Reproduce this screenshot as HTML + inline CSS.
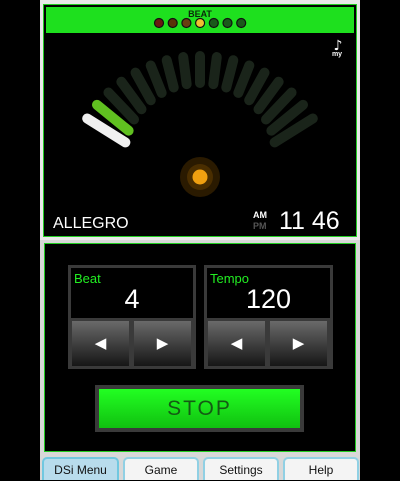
<!DOCTYPE html>
<html><head><meta charset="utf-8"><style>
html,body{margin:0;padding:0;background:#000;}
body{width:400px;height:480px;position:relative;overflow:hidden;font-family:"Liberation Sans",sans-serif;}
.abs{position:absolute;}
.arrow{color:#fff;font-size:15px;text-align:center;line-height:45px;background:linear-gradient(#6a6a6a,#161616);}
.tab{top:457px;height:23px;border:2px solid #90d0e4;border-bottom:none;border-radius:5px 5px 0 0;text-align:center;font-size:12px;line-height:22px;color:#111;box-sizing:border-box;}
</style></head><body>
<div class="abs" style="left:40px;top:0;width:320px;height:240px;background:#e8e8e8;">
  <div class="abs" style="left:3px;top:4px;width:312px;height:231px;background:#000;border:1px solid #22cc22;">
    <div class="abs" style="left:2px;top:2px;width:308px;height:26px;background:#1ee01e;"></div>
    <div class="abs" style="left:0;top:4px;width:312px;text-align:center;font-size:9px;font-weight:bold;color:#0a2a0a;">BEAT</div>
  </div>
</div>
<svg class="abs" style="left:0;top:0" width="400" height="240">
  <g id="dots"></g>
  <g id="arc"></g>
  <circle cx="200" cy="177" r="20" fill="#2a1a00"/>
  <circle cx="200" cy="177" r="13" fill="#4a2e00"/>
  <circle cx="200" cy="177" r="7.5" fill="#f0a010"/>
  <text x="338" y="50" fill="#fff" font-size="14" text-anchor="middle" font-family="DejaVu Sans">♪</text>
  <text x="337" y="56" fill="#fff" font-size="7" font-weight="bold" text-anchor="middle">my</text>
  <text x="53" y="228" fill="#fff" font-size="16">ALLEGRO</text>
  <text x="253" y="218" fill="#fff" font-size="9" font-weight="bold">AM</text>
  <text x="253" y="229" fill="#555" font-size="9" font-weight="bold">PM</text>
  <text x="279" y="229" fill="#fff" font-size="25">11 46</text>
</svg>
<div class="abs" style="left:40px;top:240px;width:320px;height:240px;background:#d8d8d8;"></div>
<div class="abs" style="left:44px;top:243px;width:310px;height:207px;background:#000;border:1px solid #22cc22;"></div>
<div class="abs" style="left:68px;top:265px;width:128px;height:104px;background:#3a3a3a;">
  <div class="abs" style="left:3px;top:3px;width:122px;height:50px;background:#000;">
    <div class="abs" style="left:3px;top:3px;color:#22ee22;font-size:13px;">Beat</div>
    <div class="abs" style="left:0;top:16px;width:122px;text-align:center;color:#fff;font-size:27px;">4</div>
  </div>
  <div class="abs arrow" style="left:4px;top:56px;width:57px;height:45px;">◀</div>
  <div class="abs arrow" style="left:66px;top:56px;width:57px;height:45px;">▶</div>
</div>
<div class="abs" style="left:204px;top:265px;width:129px;height:104px;background:#3a3a3a;">
  <div class="abs" style="left:3px;top:3px;width:123px;height:50px;background:#000;">
    <div class="abs" style="left:3px;top:3px;color:#22ee22;font-size:13px;">Tempo</div>
    <div class="abs" style="left:0;top:16px;width:123px;text-align:center;color:#fff;font-size:27px;">120</div>
  </div>
  <div class="abs arrow" style="left:4px;top:56px;width:57px;height:45px;">◀</div>
  <div class="abs arrow" style="left:66px;top:56px;width:57px;height:45px;">▶</div>
</div>
<div class="abs" style="left:95px;top:385px;width:209px;height:47px;background:#3a3a3a;">
  <div class="abs" style="left:4px;top:4px;width:201px;height:39px;background:linear-gradient(#22ff22,#10c010);color:#145a14;font-size:21px;letter-spacing:2px;text-align:center;line-height:40px;">STOP</div>
</div>
<div class="abs tab" style="left:42px;width:77px;background:#b8dcec;border-color:#70c8e0;">DSi Menu</div>
<div class="abs tab" style="left:123px;width:76px;background:#f4f4f4;">Game</div>
<div class="abs tab" style="left:203px;width:76px;background:#f4f4f4;">Settings</div>
<div class="abs tab" style="left:283px;width:76px;background:#f4f4f4;">Help</div>
<script>
const beatColors=["#6a1a10","#5a3208","#6a4010","#f0c030","#1a5a1a","#1a5a1a","#1a5a1a"];
const segCount=17;
const NS="http://www.w3.org/2000/svg";
const dots=document.getElementById('dots');
beatColors.forEach((c,i)=>{
  const el=document.createElementNS(NS,'circle');
  el.setAttribute('cx',159+i*13.7);el.setAttribute('cy',23);el.setAttribute('r',4.5);
  el.setAttribute('fill',c);el.setAttribute('stroke','#111');el.setAttribute('stroke-width','1.2');
  
  
  dots.appendChild(el);
});
const arc=document.getElementById('arc');
for(let i=0;i<segCount;i++){
  const t=(i/(segCount-1))*2-1;
  const th=t*58*Math.PI/180;
  const R=133, r=106-18*t*t;
  const cx=200,cy=189;
  const x1=cx+r*Math.sin(th),y1=cy-r*Math.cos(th),x2=cx+R*Math.sin(th),y2=cy-R*Math.cos(th);
  const el=document.createElementNS(NS,'line');
  el.setAttribute('x1',x1);el.setAttribute('y1',y1);el.setAttribute('x2',x2);el.setAttribute('y2',y2);
  let col='#1a241a';
  if(i===0)col='#f0f0f0';else if(i===1)col='#60c020';
  el.setAttribute('stroke',col);el.setAttribute('stroke-width','10');el.setAttribute('stroke-linecap','round');
  
  
  arc.appendChild(el);
}
</script>
</body></html>
